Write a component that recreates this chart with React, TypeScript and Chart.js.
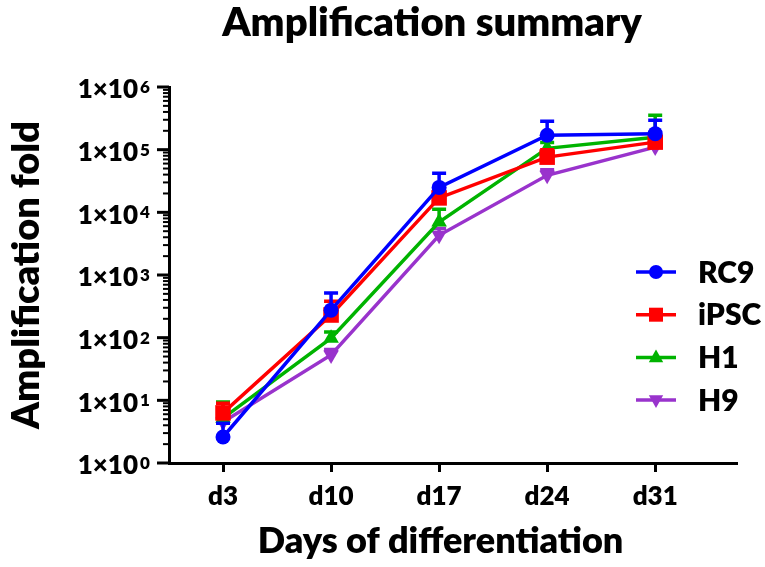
import React, { useEffect, useRef } from 'react';
import { Chart, registerables } from 'chart.js';

Chart.register(...registerables);

const days = [3, 10, 17, 24, 31];
const dayLabels = ['d3', 'd10', 'd17', 'd24', 'd31'];
const seriesNames = ['RC9', 'iPSC', 'H1', 'H9'];
const seriesColors = ['#0000ff', '#ff0000', '#00b300', '#9933cc'];
const rc9 = [2.6, 275, 25000, 170000, 180000];
const rc9Err = [4.3, 515, 42000, 285000, 295000];
const ipsc = [6.3, 230, 17000, 76000, 132000];
const ipscErr = [9, 380, 23500, 100000, 150000];
const h1 = [5.2, 98, 7000, 105000, 158000];
const h1Err = [9.4, 123, 11200, 130000, 355000];
const h9 = [4.5, 53, 4300, 39000, 110000];
const h9Err = [5.5, 65, 5500, 48000, 125000];
const decades = [1, 10, 100, 1000, 10000, 100000, 1000000];
const exponents = ['0', '1', '2', '3', '4', '5', '6'];

const FONT = 'Lato, "Open Sans", sans-serif';
const W = '800';

function drawMarker(ctx: CanvasRenderingContext2D, style: string, x: number, y: number, r: number, color: string) {
  ctx.save();
  ctx.fillStyle = color;
  ctx.beginPath();
  if (style === 'circle') {
    ctx.arc(x, y, r, 0, Math.PI * 2);
  } else if (style === 'rect') {
    ctx.rect(x - r, y - r, 2 * r, 2 * r);
  } else if (style === 'triangle') {
    ctx.moveTo(x, y - r);
    ctx.lineTo(x + r * 0.9, y + r * 0.6);
    ctx.lineTo(x - r * 0.9, y + r * 0.6);
    ctx.closePath();
  } else {
    ctx.moveTo(x, y + r);
    ctx.lineTo(x + r * 0.9, y - r * 0.6);
    ctx.lineTo(x - r * 0.9, y - r * 0.6);
    ctx.closePath();
  }
  ctx.fill();
  ctx.restore();
}

const legendStyles = ['circle', 'rect', 'triangle', 'triangleDown'];
const legendRadius = [7, 7, 8, 8];

export default function App() {
  const ref = useRef<HTMLCanvasElement | null>(null);
  useEffect(() => {
    document.body.style.margin = '0';
    const canvas = ref.current;
    if (!canvas) return;
    const values = [rc9, ipsc, h1, h9];
    const errs = [rc9Err, ipscErr, h1Err, h9Err];
    const pointStyles: any[] = ['circle', 'rect', 'triangle', 'triangle'];
    const pointRadii = [7.5, 11, 9, 9];
    const rotations = [0, 0, 0, 180];

    const datasets = seriesNames.map((name, i) => ({
      label: name,
      data: days.map((d, j) => ({ x: d, y: values[i][j] })),
      borderColor: seriesColors[i],
      backgroundColor: seriesColors[i],
      borderWidth: 3.5,
      pointStyle: pointStyles[i],
      pointRadius: pointRadii[i],
      pointRotation: rotations[i],
      pointBorderWidth: 0,
      pointBackgroundColor: seriesColors[i],
      showLine: true,
      tension: 0,
      clip: false as any,
    }));

    const decorPlugin = {
      id: 'decor',
      beforeDatasetDraw(chart: any, args: any) {
        const i = args.index;
        const ctx = chart.ctx;
        const xs = chart.scales.x;
        const ys = chart.scales.y;
        ctx.save();
        ctx.strokeStyle = seriesColors[i];
        ctx.lineWidth = 3.5;
        days.forEach((d, j) => {
          const px = xs.getPixelForValue(d);
          const py = ys.getPixelForValue(values[i][j]);
          const pe = ys.getPixelForValue(errs[i][j]);
          ctx.beginPath();
          ctx.moveTo(px, py);
          ctx.lineTo(px, pe);
          ctx.moveTo(px - 7, pe);
          ctx.lineTo(px + 7, pe);
          ctx.stroke();
        });
        ctx.restore();
      },
      afterDraw(chart: any) {
        const ctx = chart.ctx;
        const ys = chart.scales.y;
        const area = chart.chartArea;
        ctx.save();
        ctx.strokeStyle = '#000';
        decades.forEach((v, k) => {
          const py = ys.getPixelForValue(v);
          ctx.lineWidth = 3;
          ctx.beginPath();
          ctx.moveTo(area.left - 12, py);
          ctx.lineTo(area.left, py);
          ctx.stroke();
          if (k < decades.length - 1) {
            for (let m = 2; m <= 9; m++) {
              const pm = ys.getPixelForValue(v * m);
              ctx.lineWidth = 2;
              ctx.beginPath();
              ctx.moveTo(area.left - 6, pm);
              ctx.lineTo(area.left, pm);
              ctx.stroke();
            }
          }
        });
        ctx.fillStyle = '#000';
        ctx.font = W + ' 17px ' + FONT;
        ctx.textAlign = 'left';
        ctx.textBaseline = 'top';
        decades.forEach((v, k) => {
          const py = ys.getPixelForValue(v);
          ctx.fillText(exponents[k], area.left - 29, py - 8);
        });
        ctx.font = W + ' 40px ' + FONT;
        ctx.textAlign = 'center';
        ctx.textBaseline = 'alphabetic';
        ctx.fillText('Amplification summary', 432, 36);
        seriesNames.forEach((name, i) => {
          const ly = 272 + i * 42.7;
          ctx.strokeStyle = seriesColors[i];
          ctx.lineWidth = 3.5;
          ctx.beginPath();
          ctx.moveTo(636, ly);
          ctx.lineTo(676, ly);
          ctx.stroke();
          drawMarker(ctx, legendStyles[i], 656, ly, legendRadius[i], seriesColors[i]);
          ctx.fillStyle = '#000';
          ctx.font = W + ' 30px ' + FONT;
          ctx.textAlign = 'left';
          ctx.textBaseline = 'middle';
          ctx.fillText(name, 698, ly + 1);
        });
        ctx.restore();
      },
    };

    const chart = new Chart(canvas, {
      type: 'scatter',
      data: { datasets: datasets as any },
      options: {
        animation: false,
        responsive: true,
        maintainAspectRatio: false,
        layout: { padding: { top: 87, right: 28, bottom: 0, left: 0 } },
        plugins: { legend: { display: false }, tooltip: { enabled: false }, title: { display: false } },
        scales: {
          x: {
            type: 'linear',
            min: -0.5,
            max: 36.3,
            afterBuildTicks: (s: any) => {
              s.ticks = days.map((d) => ({ value: d }));
            },
            afterFit: (s: any) => {
              s.height = 104;
            },
            ticks: {
              callback: (v: any) => dayLabels[days.indexOf(Number(v))] ?? '',
              font: { family: FONT, size: 26, weight: W as any },
              color: '#000',
              padding: 9,
              maxRotation: 0,
              autoSkip: false,
            },
            grid: { drawOnChartArea: false, drawTicks: true, tickLength: 9, tickWidth: 3, tickColor: '#000' },
            border: { display: true, color: '#000', width: 3 },
            title: {
              display: true,
              text: 'Days of differentiation   ',
              font: { family: FONT, size: 36, weight: W as any },
              color: '#000',
              padding: { top: 0, bottom: 4 },
            },
          },
          y: {
            type: 'logarithmic',
            min: 1,
            max: 1000000,
            afterBuildTicks: (s: any) => {
              s.ticks = decades.map((d) => ({ value: d, major: true }));
            },
            afterFit: (s: any) => {
              s.width = 169;
            },
            ticks: {
              callback: () => '1×10',
              font: { family: FONT, size: 26, weight: W as any },
              color: '#000',
              padding: 31,
              labelOffset: 3,
              autoSkip: false,
            },
            grid: { drawOnChartArea: false, drawTicks: false },
            border: { display: true, color: '#000', width: 3 },
            title: {
              display: true,
              text: 'Amplification fold',
              font: { family: FONT, size: 38, weight: W as any },
              color: '#000',
              padding: { top: 4, bottom: 0 },
            },
          },
        },
      },
      plugins: [decorPlugin],
    });
    return () => chart.destroy();
  }, []);

  return (
    <div style={{ position: 'relative', width: 765, height: 567 }}>
      <canvas ref={ref} />
    </div>
  );
}
